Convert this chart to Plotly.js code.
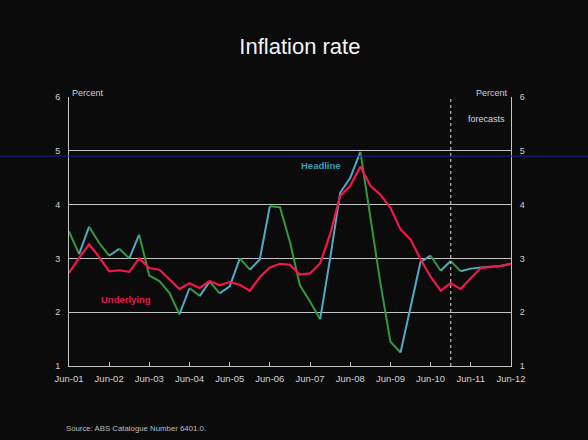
<!DOCTYPE html>
<html>
<head>
<meta charset="utf-8">
<script src="https://cdn.plot.ly/plotly-3.0.1.min.js"></script>
<style>
  html, body { margin: 0; padding: 0; background: #0b0b0c; }
  #chart { width: 588px; height: 440px; }
</style>
</head>
<body>
<div id="chart"></div>
<script>
// Quarterly dates, Jun-01 to Jun-12
const quarters = [
  '2001-06-01','2001-09-01','2001-12-01','2002-03-01','2002-06-01','2002-09-01','2002-12-01','2003-03-01',
  '2003-06-01','2003-09-01','2003-12-01','2004-03-01','2004-06-01','2004-09-01','2004-12-01','2005-03-01',
  '2005-06-01','2005-09-01','2005-12-01','2006-03-01','2006-06-01','2006-09-01','2006-12-01','2007-03-01',
  '2007-06-01','2007-09-01','2007-12-01','2008-03-01','2008-06-01','2008-09-01','2008-12-01','2009-03-01',
  '2009-06-01','2009-09-01','2009-12-01','2010-03-01','2010-06-01','2010-09-01','2010-12-01','2011-03-01',
  '2011-06-01','2011-09-01','2011-12-01','2012-03-01','2012-06-01'
];
// Headline inflation, year-ended, per cent
const headline = [
  3.50, 3.08, 3.59, 3.29, 3.05, 3.18, 3.00, 3.44,
  2.68, 2.58, 2.36, 1.96, 2.45, 2.30, 2.57, 2.35,
  2.48, 3.00, 2.79, 2.98, 3.97, 3.95, 3.30, 2.50,
  2.20, 1.87, 3.00, 4.22, 4.50, 4.98, 3.72, 2.55,
  1.45, 1.25, 2.12, 2.93, 3.05, 2.77, 2.95, 2.76,
  2.81, 2.83, 2.84, 2.86, 2.90
];
// Underlying inflation, year-ended, per cent
const underlying = [
  2.73, 3.01, 3.26, 3.03, 2.76, 2.78, 2.75, 3.00,
  2.82, 2.79, 2.61, 2.43, 2.54, 2.45, 2.58, 2.50,
  2.56, 2.51, 2.40, 2.65, 2.83, 2.90, 2.88, 2.70,
  2.72, 2.91, 3.45, 4.16, 4.35, 4.71, 4.35, 4.19,
  3.94, 3.54, 3.35, 2.99, 2.66, 2.40, 2.54, 2.43,
  2.63, 2.82, 2.84, 2.86, 2.90
];
const tickDates = ['2001-06-01','2002-06-01','2003-06-01','2004-06-01','2005-06-01','2006-06-01',
                   '2007-06-01','2008-06-01','2009-06-01','2010-06-01','2011-06-01','2012-06-01'];
const tickLabels = ['Jun-01','Jun-02','Jun-03','Jun-04','Jun-05','Jun-06',
                    'Jun-07','Jun-08','Jun-09','Jun-10','Jun-11','Jun-12'];
const yTicks = [1, 2, 3, 4, 5, 6];
const forecastStart = '2010-12-01';

const FONT = 'Liberation Sans, Arial, sans-serif';
const RISE = '#52a9c4';
const FALL = '#35973f';
const RED = '#f0184a';
const GRID = '#c4c4c4';

// Headline drawn as runs of rising / falling segments (the photo shows two tones)
const traces = [];
let start = 0;
const dir = i => (headline[i + 1] >= headline[i] ? 1 : -1);
for (let i = 1; i <= headline.length - 1; i++) {
  if (i === headline.length - 1 || dir(i) !== dir(start)) {
    traces.push({
      x: quarters.slice(start, i + 1),
      y: headline.slice(start, i + 1),
      type: 'scatter', mode: 'lines',
      line: { color: dir(start) > 0 ? RISE : FALL, width: 2 },
      showlegend: false, hoverinfo: 'skip', xaxis: 'x', yaxis: 'y'
    });
    start = i;
  }
}
traces.push({
  x: quarters, y: underlying, type: 'scatter', mode: 'lines',
  line: { color: RED, width: 2.2 }, showlegend: false, xaxis: 'x', yaxis: 'y2'
});

const layout = {
  width: 588, height: 440,
  margin: { l: 69, r: 77, t: 97, b: 74 },
  paper_bgcolor: '#0b0b0c', plot_bgcolor: '#0b0b0c',
  font: { family: FONT, color: '#cfcfcf', size: 9 },
  title: { text: 'Inflation rate', x: 0.51, xanchor: 'center', y: 0.895, yanchor: 'middle',
           font: { family: FONT, size: 22, color: '#f4f4f4' } },
  xaxis: {
    type: 'date', range: ['2001-06-01', '2012-06-01'],
    tickvals: tickDates, ticktext: tickLabels,
    ticks: 'inside', ticklen: 4, tickcolor: GRID,
    showgrid: false, zeroline: false,
    showline: true, linecolor: GRID, linewidth: 1,
    tickfont: { family: FONT, size: 9.5, color: '#d2d2d2' }, ticklabelstandoff: 4
  },
  yaxis: {
    range: [1, 6], tickvals: yTicks, ticks: '', side: 'left',
    showgrid: true, gridcolor: GRID, gridwidth: 1, zeroline: false,
    showline: true, linecolor: GRID, linewidth: 1,
    tickfont: { family: FONT, size: 9, color: '#cfcfcf' }, ticklabelstandoff: 6
  },
  yaxis2: {
    range: [1, 6], tickvals: yTicks, overlaying: 'y', side: 'right', anchor: 'x',
    showgrid: false, zeroline: false, ticks: '',
    showline: true, linecolor: GRID, linewidth: 1,
    tickfont: { family: FONT, size: 9, color: '#cfcfcf' }, ticklabelstandoff: 6
  },
  shapes: [
    { type: 'line', xref: 'x', yref: 'paper', x0: forecastStart, x1: forecastStart, y0: 0, y1: 1,
      line: { color: '#bdbdbd', width: 1.2, dash: 'dot' } },
    { type: 'line', xref: 'paper', yref: 'paper', x0: -0.16, x1: 1.18, y0: 0.78, y1: 0.78,
      line: { color: '#1f1f86', width: 1 } }
  ],
  annotations: [
    { text: 'Percent', xref: 'paper', yref: 'paper', x: 0.002, y: 1, xanchor: 'left', yanchor: 'bottom',
      showarrow: false, font: { family: FONT, size: 9, color: '#cfcfcf' }, yshift: -3 },
    { text: 'Percent', xref: 'paper', yref: 'paper', x: 0.998, y: 1, xanchor: 'right', yanchor: 'bottom',
      showarrow: false, font: { family: FONT, size: 9, color: '#cfcfcf' }, yshift: -3 },
    { text: 'forecasts', xref: 'paper', yref: 'y', x: 0.945, y: 5.6, xanchor: 'center', yanchor: 'middle',
      showarrow: false, font: { family: FONT, size: 9, color: '#d8d8d8' } },
    { text: '<b>Headline</b>', xref: 'paper', yref: 'y', x: 0.57, y: 4.72, xanchor: 'center', yanchor: 'middle',
      showarrow: false, font: { family: FONT, size: 9.5, color: '#3a9fb6' } },
    { text: '<b>Underlying</b>', xref: 'paper', yref: 'y', x: 0.128, y: 2.24, xanchor: 'center', yanchor: 'middle',
      showarrow: false, font: { family: FONT, size: 9.5, color: '#e01a55' } },
    { text: 'Source: ABS Catalogue Number 6401.0.', xref: 'paper', yref: 'paper', x: -0.012, y: -0.232,
      xanchor: 'left', yanchor: 'middle', showarrow: false,
      font: { family: FONT, size: 7.8, color: '#bdbdbd' } }
  ]
};

Plotly.newPlot('chart', traces, layout, { staticPlot: true, displayModeBar: false });
</script>
</body>
</html>
